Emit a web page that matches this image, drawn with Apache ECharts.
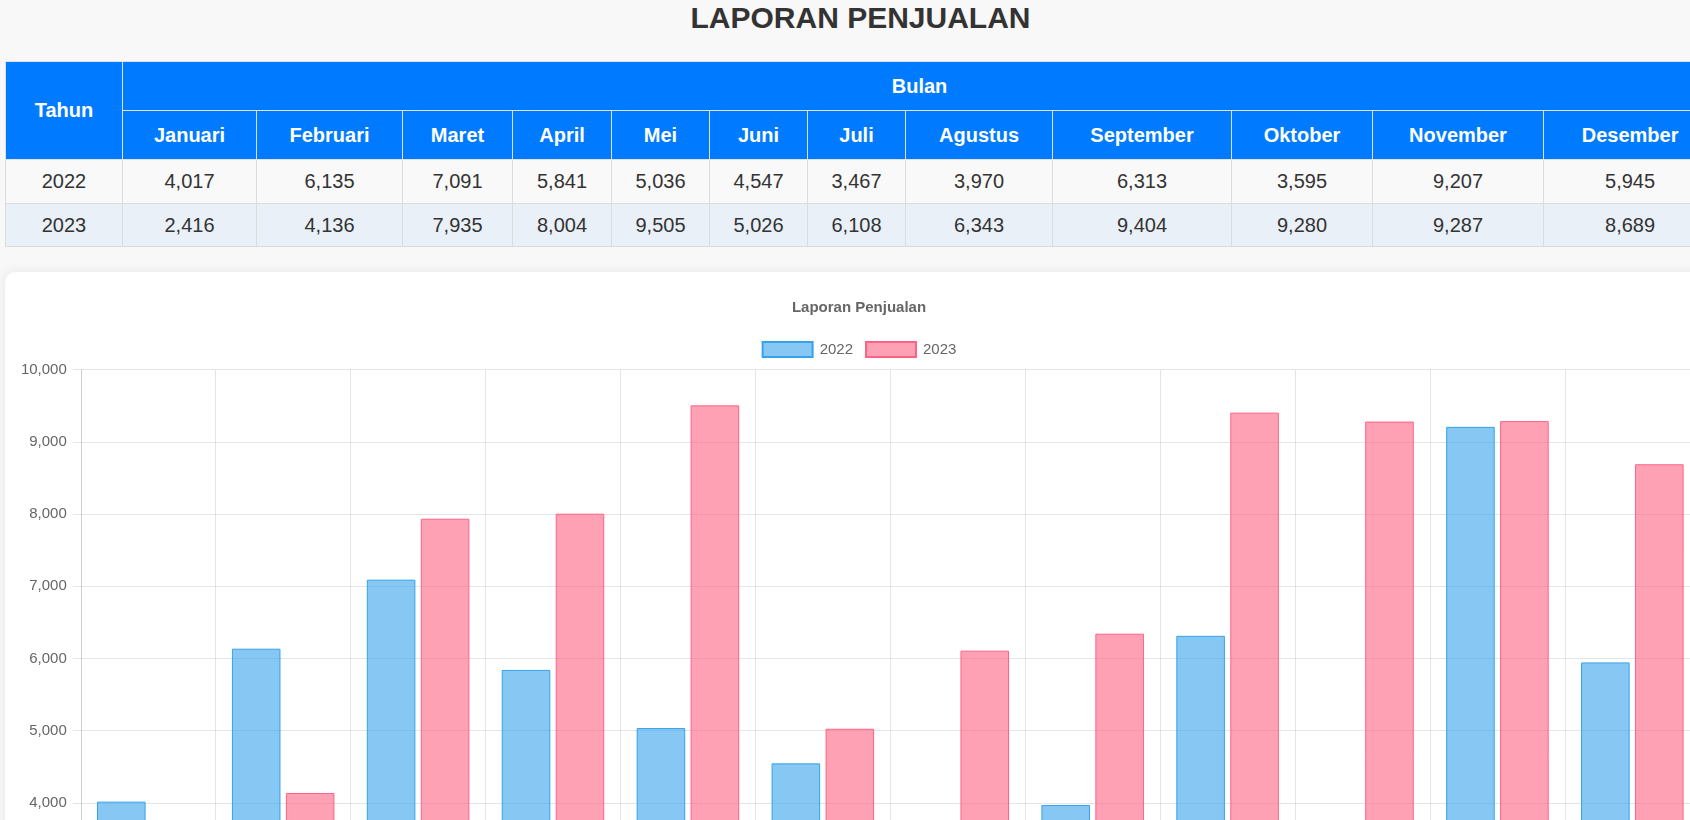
<!DOCTYPE html>
<html>
<head>
<meta charset="utf-8">
<script src="https://cdn.jsdelivr.net/npm/echarts@6/dist/echarts.min.js"></script>
<style>
  html, body { margin: 0; padding: 0; background: #f8f8f8; overflow: hidden; width: 1690px; height: 820px; }
  body { font-family: "Liberation Sans", Arial, Helvetica, sans-serif; }
  #wrap { position: absolute; left: 5px; top: 0; width: 1711px; }
  h1 { position: absolute; left: 0; top: 0; width: 1711px; margin: 0; text-align: center;
       font-size: 30px; line-height: 36px; font-weight: bold; color: #333; }
  table { position: absolute; left: 0; top: 61px; width: 1711px; table-layout: fixed;
          border-collapse: collapse; font-size: 20px; }
  th { background: #007bff; color: #fff; font-weight: bold; border: 1px solid #dee2e6; padding: 0; text-align: center; }
  td { border: 1px solid #dcdcdc; padding: 0; text-align: center; color: #333; }
  tr.r0 td { background: #f9f9f9; }
  tr.r1 td { background: #e9f0f7; }
  #card { position: absolute; left: 0; top: 272px; width: 1711px; height: 900px; background: #fff;
          border-radius: 10px; box-shadow: 0 0 12px rgba(0,0,0,0.08); }
  #chart { position: absolute; left: 0; top: 0; width: 1708px; height: 860px; }
</style>
</head>
<body>
<div id="wrap">
  <h1>LAPORAN PENJUALAN</h1>
  <table id="tbl"></table>
  <div id="card"><div id="chart"></div></div>
</div>
<script>
// ---- data ----
const months = ["Januari","Februari","Maret","April","Mei","Juni","Juli","Agustus","September","Oktober","November","Desember"];
const years = ["2022","2023"];
const sales2022 = [4017, 6135, 7091, 5841, 5036, 4547, 3467, 3970, 6313, 3595, 9207, 5945];
const sales2023 = [2416, 4136, 7935, 8004, 9505, 5026, 6108, 6343, 9404, 9280, 9287, 8689];
const yTicks = [0, 1000, 2000, 3000, 4000, 5000, 6000, 7000, 8000, 9000, 10000];

// ---- layout (separate from data) ----
const colWidths = [117, 134, 146, 110, 99, 98, 98, 98, 147, 179, 141, 171, 173];
const rowHeights = [49, 49, 44, 43];

const fmt = v => v.toLocaleString('en-US');

// table
(function () {
  const t = document.getElementById('tbl');
  let h = '<colgroup>' + colWidths.map(w => '<col style="width:' + w + 'px">').join('') + '</colgroup>';
  h += '<tr style="height:' + rowHeights[0] + 'px"><th rowspan="2">Tahun</th><th colspan="' + months.length + '">Bulan</th></tr>';
  h += '<tr style="height:' + rowHeights[1] + 'px">' + months.map(m => '<th>' + m + '</th>').join('') + '</tr>';
  const rows = [sales2022, sales2023];
  rows.forEach((r, i) => {
    h += '<tr class="r' + i + '" style="height:' + rowHeights[2 + i] + 'px"><td>' + years[i] + '</td>' +
         r.map(v => '<td>' + fmt(v) + '</td>').join('') + '</tr>';
  });
  t.innerHTML = h;
})();

// chart
const chart = echarts.init(document.getElementById('chart'), null, { renderer: 'canvas' });
const FONT = '"Liberation Sans", Arial, Helvetica, sans-serif';
const grid = 'rgba(0,0,0,0.1)';
chart.setOption({
  animation: false,
  textStyle: { fontFamily: FONT },
  title: {
    text: 'Laporan Penjualan', left: 'center', top: 28, padding: 0,
    textStyle: { fontSize: 15, fontWeight: 'bold', color: '#666', fontFamily: FONT }
  },
  legend: {
    top: 69, left: 'center', padding: 0, itemWidth: 50, itemHeight: 15, itemGap: 12,
    icon: 'rect',
    textStyle: { fontSize: 15, color: '#666', fontFamily: FONT, padding: [0, 0, 0, 2] },
    data: years
  },
  grid: { left: 75.8, right: 13.2, top: 97.6, bottom: 40.3, containLabel: false },
  xAxis: {
    type: 'category', data: months, boundaryGap: true,
    axisLine: { show: true, lineStyle: { color: grid } },
    axisTick: { show: true, length: 8, lineStyle: { color: grid } },
    splitLine: { show: true, lineStyle: { color: grid, width: 1 } },
    axisLabel: { fontSize: 15, color: '#666', fontFamily: FONT }
  },
  yAxis: {
    type: 'value', min: yTicks[0], max: yTicks[yTicks.length - 1], interval: yTicks[1] - yTicks[0],
    axisLine: { show: true, lineStyle: { color: grid } },
    axisTick: { show: true, length: 8, lineStyle: { color: grid } },
    splitLine: { show: true, lineStyle: { color: grid, width: 1 } },
    axisLabel: { fontSize: 15, color: '#666', margin: 14, fontFamily: FONT, formatter: v => fmt(v) }
  },
  series: [
    {
      name: years[0], type: 'bar', data: sales2022,
      barCategoryGap: '24%', barGap: '11.1%',
      itemStyle: { color: 'rgba(54,162,235,0.6)', borderColor: 'rgb(54,162,235)', borderWidth: 1 }
    },
    {
      name: years[1], type: 'bar', data: sales2023,
      barCategoryGap: '24%', barGap: '11.1%',
      itemStyle: { color: 'rgba(255,99,132,0.6)', borderColor: 'rgb(255,99,132)', borderWidth: 1 }
    }
  ]
});
</script>
</body>
</html>
